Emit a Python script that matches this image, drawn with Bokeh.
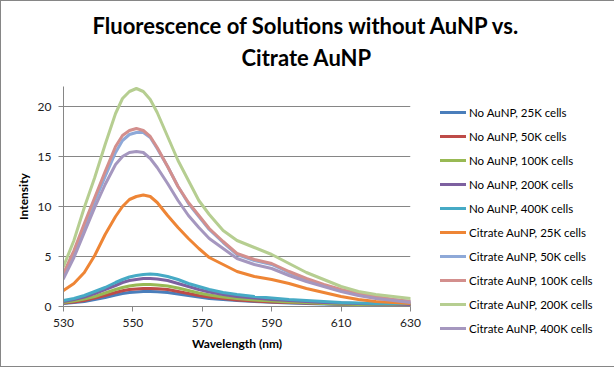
from bokeh.plotting import figure
from bokeh.models import Range1d, FixedTicker, Legend, LegendItem, Title
from bokeh.embed import file_html
from bokeh.resources import INLINE

wavelength = [530, 533, 536, 539, 542, 545, 547, 549, 551, 553, 555, 557, 560, 563, 566, 569,
              572, 576, 580, 585, 590, 595, 600, 605, 610, 615, 620, 625, 630]

no_25k = [0.3, 0.4, 0.5, 0.7, 0.9, 1.15, 1.3, 1.4, 1.45, 1.5, 1.5, 1.48, 1.4, 1.25, 1.1, 0.95,
          0.8, 0.7, 0.6, 0.5, 0.42, 0.36, 0.3, 0.25, 0.2, 0.18, 0.15, 0.12, 0.1]
no_50k = [0.35, 0.45, 0.6, 0.85, 1.1, 1.4, 1.57, 1.7, 1.75, 1.8, 1.8, 1.78, 1.7, 1.5, 1.3, 1.1,
          0.95, 0.8, 0.65, 0.55, 0.45, 0.4, 0.35, 0.3, 0.25, 0.2, 0.15, 0.15, 0.1]
no_100k = [0.4, 0.55, 0.75, 1.0, 1.35, 1.7, 1.9, 2.05, 2.15, 2.2, 2.2, 2.15, 2.05, 1.85, 1.6, 1.35,
           1.15, 0.95, 0.8, 0.65, 0.55, 0.45, 0.4, 0.3, 0.25, 0.2, 0.2, 0.15, 0.15]
no_200k = [0.5, 0.7, 0.95, 1.3, 1.7, 2.1, 2.4, 2.6, 2.7, 2.8, 2.8, 2.75, 2.6, 2.3, 2.0, 1.7,
           1.45, 1.2, 1.0, 0.85, 0.7, 0.6, 0.5, 0.4, 0.35, 0.3, 0.25, 0.25, 0.2]
no_400k = [0.6, 0.8, 1.1, 1.5, 1.9, 2.4, 2.7, 2.95, 3.1, 3.2, 3.25, 3.2, 3.0, 2.7, 2.3, 2.0,
           1.7, 1.4, 1.2, 1.0, 0.85, 0.7, 0.6, 0.5, 0.4, 0.35, 0.3, 0.3, 0.3]
cit_25k = [1.6, 2.3, 3.4, 5.1, 7.2, 9.0, 10.0, 10.7, 11.0, 11.15, 11.0, 10.4, 9.1, 7.9, 6.8, 5.8,
           4.9, 4.2, 3.5, 3.0, 2.7, 2.3, 1.8, 1.4, 1.0, 0.7, 0.5, 0.4, 0.3]
cit_50k = [3.1, 5.3, 8.0, 10.5, 13.0, 15.4, 16.6, 17.2, 17.4, 17.4, 16.9, 15.8, 14.0, 12.0, 10.3, 9.0,
           7.7, 6.4, 5.2, 4.6, 4.2, 3.4, 2.7, 2.1, 1.6, 1.2, 0.9, 0.7, 0.5]
cit_100k = [3.3, 5.6, 8.3, 10.9, 13.5, 16.0, 17.1, 17.6, 17.8, 17.6, 17.0, 15.9, 14.0, 12.0, 10.4, 9.1,
            7.8, 6.5, 5.3, 4.7, 4.3, 3.5, 2.8, 2.2, 1.7, 1.3, 1.0, 0.7, 0.5]
cit_200k = [4.0, 6.6, 9.9, 12.9, 16.2, 19.3, 20.8, 21.5, 21.8, 21.5, 20.7, 19.4, 17.0, 14.6, 12.6, 10.6,
            9.2, 7.6, 6.6, 5.9, 5.2, 4.3, 3.4, 2.7, 2.0, 1.5, 1.2, 1.0, 0.8]
cit_400k = [2.8, 4.9, 7.4, 9.9, 12.2, 14.2, 15.0, 15.4, 15.5, 15.4, 14.8, 13.9, 12.3, 10.6, 9.1, 7.9,
            6.8, 5.8, 4.8, 4.2, 3.8, 3.1, 2.5, 2.0, 1.5, 1.1, 0.8, 0.6, 0.4]

series_names = ["No AuNP, 25K cells", "No AuNP, 50K cells", "No AuNP, 100K cells",
                "No AuNP, 200K cells", "No AuNP, 400K cells", "Citrate AuNP, 25K cells",
                "Citrate AuNP, 50K cells", "Citrate AuNP, 100K cells",
                "Citrate AuNP, 200K cells", "Citrate AuNP, 400K cells"]
series_values = [no_25k, no_50k, no_100k, no_200k, no_400k,
                 cit_25k, cit_50k, cit_100k, cit_200k, cit_400k]
colors = ["#4A7EBB", "#BE4B48", "#98B954", "#7D60A0", "#46AAC5",
          "#EE8535", "#8EA9D8", "#D38F8D", "#B6CE91", "#A597BF"]

x_ticks = [530, 550, 570, 590, 610, 630]
y_ticks = [0, 5, 10, 15, 20]

FONT = "Lato"
GRAY = "#868686"

p = figure(frame_width=347, frame_height=220, output_backend="svg", toolbar_location=None,
           x_range=Range1d(530, 630), y_range=Range1d(0, 22),
           min_border_left=62, min_border_right=200, min_border_top=85, min_border_bottom=60)
p.styles = {"border": "1px solid #868686"}

# spacer between the frame and the title lines
p.add_layout(Title(text=" ", text_font_size="11px", standoff=0), "above")
p.add_layout(Title(text="Citrate AuNP", align="left", offset=178, text_font=FONT,
                   text_font_size="22px", text_font_style="bold", text_color="#000000",
                   standoff=3), "above")
p.add_layout(Title(text="Fluorescence of Solutions without AuNP vs.", align="left", offset=29,
                   text_font=FONT, text_font_size="22px", text_font_style="bold",
                   text_color="#000000", standoff=3), "above")

p.outline_line_color = None
p.xgrid.visible = False
p.ygrid.ticker = FixedTicker(ticks=y_ticks)
p.ygrid.grid_line_color = GRAY
p.ygrid.grid_line_width = 1

p.xaxis.ticker = FixedTicker(ticks=x_ticks)
p.yaxis.ticker = FixedTicker(ticks=y_ticks)
for ax in (p.xaxis[0], p.yaxis[0]):
    ax.axis_line_color = GRAY
    ax.major_tick_line_color = GRAY
    ax.minor_tick_line_color = None
    ax.major_tick_in = 0
    ax.major_tick_out = 5
    ax.major_label_text_font = FONT
    ax.major_label_text_font_size = "12px"
    ax.major_label_text_color = "#222222"
    ax.axis_label_text_font = FONT
    ax.axis_label_text_font_size = "12px"
    ax.axis_label_text_font_style = "bold"
    ax.axis_label_text_color = "#000000"

p.xaxis.axis_label = "Wavelength (nm)"
p.yaxis.axis_label = "Intensity"
p.xaxis.major_label_standoff = 7
p.xaxis.axis_label_standoff = 6
p.yaxis.major_label_standoff = 7
p.yaxis.axis_label_standoff = 4

items = []
for name, vals, c in zip(series_names, series_values, colors):
    r = p.line(wavelength, vals, line_color=c, line_width=3, line_join="round", line_cap="round")
    items.append(LegendItem(label=name, renderers=[r]))

legend = Legend(items=items, location=(30, -29), margin=0, padding=0,
                border_line_color=None, background_fill_alpha=0,
                glyph_width=26, glyph_height=14, label_height=14, spacing=10,
                label_standoff=3, label_text_font=FONT, label_text_font_size="11.5px",
                label_text_color="#000000")
p.add_layout(legend, "right")

open("out.html", "w").write(file_html(p, INLINE))
